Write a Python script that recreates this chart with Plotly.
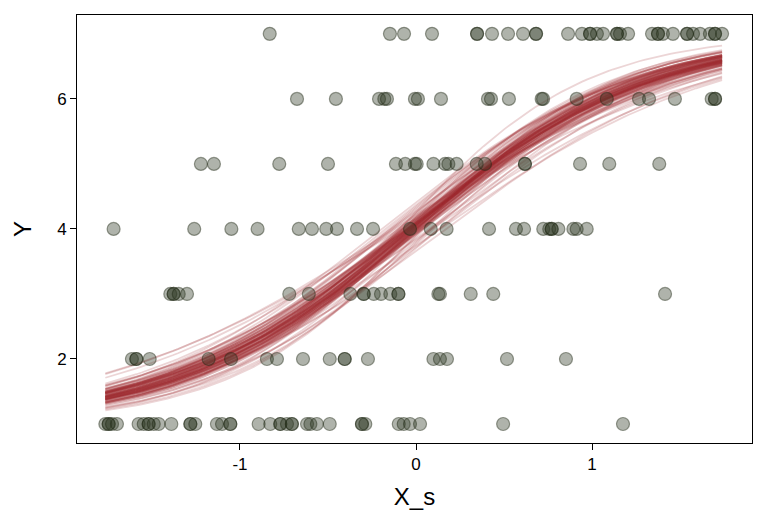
import numpy as np
import plotly.graph_objects as go

# Observed data: X_s values grouped by response level Y
x_y7 = [-0.831, -0.148, -0.068, 0.091, 0.347, 0.347, 0.432, 0.523, 0.608, 0.682, 0.682,
        0.864, 0.943, 0.989, 0.989, 1.028, 1.063, 1.142, 1.142, 1.159, 1.205, 1.341, 1.375,
        1.375, 1.403, 1.460, 1.540, 1.540, 1.574, 1.614, 1.670, 1.699, 1.699, 1.739]
x_y6 = [-0.676, -0.455, -0.210, -0.180, -0.165, -0.006, 0.011, 0.142, 0.409, 0.426, 0.528,
        0.714, 0.722, 0.913, 1.084, 1.267, 1.324, 1.471, 1.680, 1.699, 1.699]
x_y5 = [-1.222, -1.148, -0.777, -0.500, -0.114, -0.061, -0.006, 0.004, 0.099, 0.165, 0.184,
        0.231, 0.345, 0.392, 0.619, 0.619, 0.932, 1.098, 1.382]
x_y4 = [-1.718, -1.260, -1.049, -0.900, -0.666, -0.591, -0.510, -0.449, -0.335, -0.244,
        -0.034, 0.084, 0.174, 0.415, 0.568, 0.614, 0.723, 0.757, 0.771, 0.771, 0.809, 0.894,
        0.913, 0.970]
x_y3 = [-1.396, -1.377, -1.377, -1.348, -1.301, -0.720, -0.609, -0.373, -0.297, -0.297,
        -0.240, -0.199, -0.146, -0.100, -0.100, 0.127, 0.136, 0.311, 0.439, 1.415]
x_y2 = [-1.614, -1.589, -1.589, -1.513, -1.178, -1.051, -0.847, -0.790, -0.642, -0.490,
        -0.405, -0.405, -0.273, 0.099, 0.136, 0.176, 0.517, 0.852]
x_y1 = [-1.765, -1.746, -1.746, -1.727, -1.699, -1.576, -1.547, -1.519, -1.519, -1.490,
        -1.462, -1.390, -1.282, -1.282, -1.254, -1.131, -1.102, -1.055, -1.055, -0.894,
        -0.828, -0.771, -0.771, -0.733, -0.705, -0.705, -0.619, -0.600, -0.563, -0.490,
        -0.307, -0.307, -0.288, -0.098, -0.070, -0.034, 0.023, 0.495, 1.176]
levels = [7, 6, 5, 4, 3, 2, 1]

# Posterior draws of the fitted curve: Y = 1 + 6 * logistic(a + b * X_s)
draw_a = [0.040, -0.020, 0.115, -0.095, 0.160, 0.010, -0.170, 0.085, 0.205, -0.050,
          0.055, 0.130, -0.125, 0.025, 0.175, -0.200, 0.070, -0.005, 0.250, -0.080,
          0.100, -0.035, 0.145, 0.040, -0.140, 0.190, 0.010, 0.070, -0.065, 0.115,
          0.220, -0.110, 0.025, 0.085, -0.230, 0.160, -0.020, 0.055, 0.280, -0.155,
          0.100, -0.005, 0.130, -0.050, 0.040, 0.175, -0.185, 0.070, 0.010, 0.235,
          0.02, 0.06, -0.01, 0.08, 0.03, -0.04, 0.10, 0.05, 0.00, 0.07,
          -0.02, 0.04, 0.09, 0.01, -0.05, 0.06, 0.11, 0.03, -0.03, 0.05,
          0.08, 0.00, 0.04, 0.12, -0.01, 0.06, 0.02, -0.06, 0.07, 0.03,
          0.09, 0.01, 0.05, -0.02, 0.10, 0.04, 0.00, 0.07, -0.04, 0.06,
          0.02, 0.08, 0.03, -0.01, 0.05, 0.13, 0.01, 0.04, -0.03, 0.06]
draw_b = [1.46, 1.38, 1.54, 1.32, 1.62, 1.43, 1.25, 1.67, 1.50, 1.36,
          1.58, 1.21, 1.47, 1.72, 1.41, 1.525, 1.29, 1.64, 1.45, 1.785,
          1.37, 1.56, 1.17, 1.49, 1.68, 1.33, 1.60, 1.42, 1.84, 1.395,
          1.51, 1.24, 1.63, 1.46, 1.34, 1.55, 1.75, 1.28, 1.43, 1.59,
          1.135, 1.47, 1.69, 1.37, 1.54, 1.90, 1.42, 1.30, 1.62, 1.50,
          1.48, 1.42, 1.53, 1.40, 1.56, 1.45, 1.50, 1.37, 1.59, 1.44,
          1.51, 1.47, 1.41, 1.55, 1.49, 1.62, 1.43, 1.52, 1.46, 1.39,
          1.57, 1.48, 1.54, 1.44, 1.60, 1.42, 1.50, 1.47, 1.36, 1.53,
          1.45, 1.58, 1.49, 1.41, 1.52, 1.46, 1.64, 1.43, 1.51, 1.48,
          1.38, 1.55, 1.47, 1.50, 1.44, 1.57, 1.40, 1.53, 1.46, 1.49]

fig = go.Figure()

xs_all = x_y7 + x_y6 + x_y5 + x_y4 + x_y3 + x_y2 + x_y1
grid = np.linspace(min(xs_all), max(xs_all), 120)
for a, b in zip(draw_a, draw_b):
    yy = 1 + 6 / (1 + np.exp(-(a + b * grid)))
    fig.add_trace(go.Scatter(x=grid, y=yy, mode="lines",
                             line=dict(color="rgba(160,45,52,0.2)", width=1.8),
                             hoverinfo="skip", showlegend=False))

groups = [x_y7, x_y6, x_y5, x_y4, x_y3, x_y2, x_y1]
px, py = [], []
for lv, g in zip(levels, groups):
    px += g
    py += [lv] * len(g)

fig.add_trace(go.Scatter(x=px, y=py, mode="markers",
                         marker=dict(size=13, color="rgba(45,55,35,0.38)",
                                     line=dict(color="rgba(30,40,20,0.45)", width=1.2)),
                         showlegend=False))

fig.update_layout(
    width=760, height=520,
    margin=dict(l=69, r=16, t=7, b=85),
    paper_bgcolor="white", plot_bgcolor="white",
    font=dict(family="Liberation Sans, Arial, sans-serif", color="black"),
)
fig.update_xaxes(range=[-1.926, 1.909], tickvals=[-1, 0, 1], ticktext=["-1", "0", "1"],
                 showgrid=False, zeroline=False, showline=True, mirror=True,
                 linecolor="black", linewidth=1, ticks="outside", ticklen=6,
                 tickcolor="black", tickfont=dict(size=17),
                 title=dict(text="X_s", font=dict(size=24), standoff=14))
fig.update_yaxes(range=[0.708, 7.29], tickvals=[2, 4, 6], ticktext=["2", "4", "6"],
                 showgrid=False, zeroline=False, showline=True, mirror=True,
                 linecolor="black", linewidth=1, ticks="outside", ticklen=6,
                 tickcolor="black", tickfont=dict(size=17),
                 title=dict(text="Y", font=dict(size=24), standoff=18))

fig.write_html("out.html")
